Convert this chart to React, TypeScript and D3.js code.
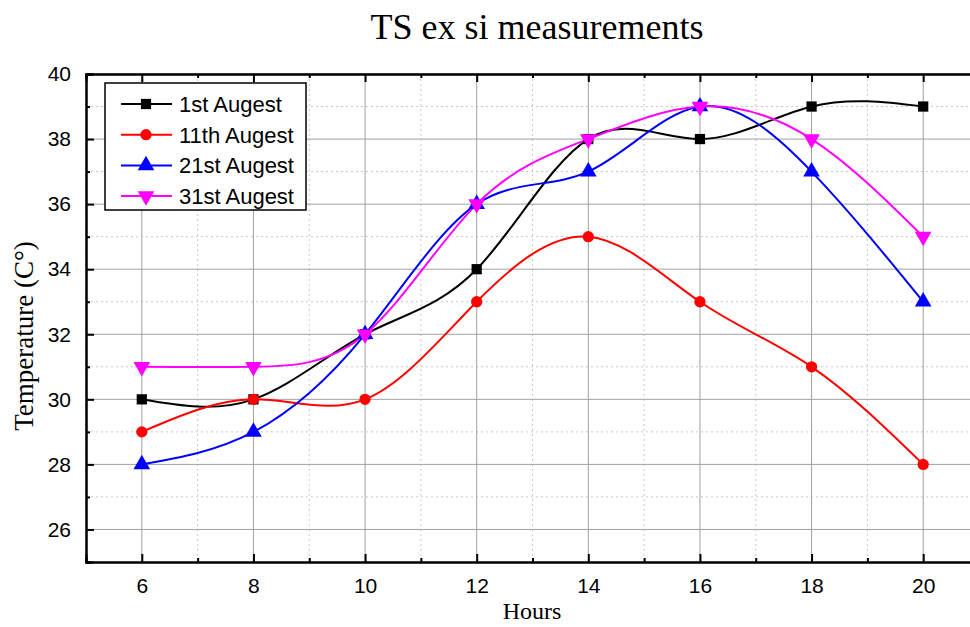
import React, { useEffect, useRef } from 'react'
import * as d3 from 'd3'

const hours = [6, 8, 10, 12, 14, 16, 18, 20]
const aug1 = [30, 30, 32, 34, 38, 38, 39, 39]
const aug11 = [29, 30, 30, 33, 35, 33, 31, 28]
const aug21 = [28, 29, 32, 36, 37, 39, 37, 33]
const aug31 = [31, 31, 32, 36, 38, 39, 38, 35]
const seriesNames = ['1st Augest', '11th Augest', '21st Augest', '31st Augest']
const yTicks = [26, 28, 30, 32, 34, 36, 38, 40]

const colors = ['#000000', '#ff0000', '#0000ff', '#ff00ff']
const symbols = [d3.symbolSquare, d3.symbolCircle, d3.symbolTriangle, d3.symbolTriangle]

const App = () => {
  const ref = useRef<SVGSVGElement>(null)

  useEffect(() => {
    draw()
  }, [])

  const draw = () => {
    const svg = d3.select(ref.current)
    svg.selectAll('*').remove()

    const left = 86
    const top = 74
    const bottom = 562
    const right = 979
    const x = d3.scaleLinear().domain([5, 21]).range([left, right])
    const y = d3.scaleLinear().domain([25, 40]).range([bottom, top])

    const g = svg.append('g')

    // grid
    const minorX = d3.range(5, 22, 2)
    const minorY = d3.range(25, 41, 2)
    g.selectAll('.mgx').data(minorX).enter().append('line')
      .attr('x1', (d) => x(d)).attr('x2', (d) => x(d))
      .attr('y1', top).attr('y2', bottom)
      .attr('stroke', '#c8c8c8').attr('stroke-dasharray', '2,3')
    g.selectAll('.mgy').data(minorY).enter().append('line')
      .attr('x1', left).attr('x2', right)
      .attr('y1', (d) => y(d)).attr('y2', (d) => y(d))
      .attr('stroke', '#c8c8c8').attr('stroke-dasharray', '2,3')
    g.selectAll('.gx').data(hours).enter().append('line')
      .attr('x1', (d) => x(d)).attr('x2', (d) => x(d))
      .attr('y1', top).attr('y2', bottom)
      .attr('stroke', '#a0a0a0').attr('stroke-width', 1)
    g.selectAll('.gy').data(yTicks).enter().append('line')
      .attr('x1', left).attr('x2', right)
      .attr('y1', (d) => y(d)).attr('y2', (d) => y(d))
      .attr('stroke', '#a0a0a0').attr('stroke-width', 1)

    // axes (ticks inward)
    const ax = g.append('g').attr('transform', `translate(0,${bottom})`)
      .call(d3.axisBottom(x).tickValues(hours).tickSize(-8).tickPadding(16).tickFormat(d3.format('d')))
    const axMinor = g.append('g').attr('transform', `translate(0,${bottom})`)
      .call(d3.axisBottom(x).tickValues(minorX).tickSize(-4).tickFormat(() => ''))
    const axTop = g.append('g').attr('transform', `translate(0,${top})`)
      .call(d3.axisTop(x).tickValues(hours).tickSize(-8).tickFormat(() => ''))
    const axTopMinor = g.append('g').attr('transform', `translate(0,${top})`)
      .call(d3.axisTop(x).tickValues(minorX).tickSize(-4).tickFormat(() => ''))
    const ay = g.append('g').attr('transform', `translate(${left},0)`)
      .call(d3.axisLeft(y).tickValues(yTicks).tickSize(-8).tickPadding(15))
    const ayMinor = g.append('g').attr('transform', `translate(${left},0)`)
      .call(d3.axisLeft(y).tickValues(minorY).tickSize(-4).tickFormat(() => ''))
    const ayRight = g.append('g').attr('transform', `translate(${right},0)`)
      .call(d3.axisRight(y).tickValues(yTicks).tickSize(-8).tickFormat(() => ''))
    ;[ax, axMinor, axTop, axTopMinor, ay, ayMinor, ayRight].forEach((a) => {
      a.attr('font-size', 21).attr('font-family', 'Liberation Sans, Arial, sans-serif')
      a.select('.domain').attr('stroke', '#000').attr('stroke-width', 2)
      a.selectAll('.tick line').attr('stroke', '#000').attr('stroke-width', 2)
      a.selectAll('.tick text').attr('fill', '#000')
    })

    // series
    const data = [aug1, aug11, aug21, aug31]
    const line = d3.line<number>()
      .x((d, i) => x(hours[i]))
      .y((d) => y(d))
      .curve(d3.curveNatural)

    data.forEach((vals, si) => {
      g.append('path').datum(vals)
        .attr('d', line)
        .attr('fill', 'none')
        .attr('stroke', colors[si])
        .attr('stroke-width', 2)
    })
    const sym = (si: number) => d3.symbol().type(symbols[si]).size(si === 1 ? 100 : si === 0 ? 105 : 120)
    data.forEach((vals, si) => {
      g.selectAll(`.m${si}`).data(vals).enter().append('path')
        .attr('d', sym(si)())
        .attr('transform', (d, i) => `translate(${x(hours[i])},${y(d)})${si === 3 ? ' rotate(180)' : ''}`)
        .attr('fill', colors[si])
    })

    // legend
    const lg = g.append('g')
    lg.append('rect').attr('x', 105).attr('y', 83).attr('width', 201).attr('height', 127)
      .attr('fill', '#fff').attr('stroke', '#000').attr('stroke-width', 1.5)
    seriesNames.forEach((name, si) => {
      const ly = 104 + si * 30.7
      lg.append('line').attr('x1', 121).attr('x2', 172).attr('y1', ly).attr('y2', ly)
        .attr('stroke', colors[si]).attr('stroke-width', 2)
      lg.append('path').attr('d', sym(si)())
        .attr('transform', `translate(146,${ly})${si === 3 ? ' rotate(180)' : ''}`)
        .attr('fill', colors[si])
      lg.append('text').attr('x', 179).attr('y', ly + 8)
        .attr('font-family', 'Liberation Sans, Arial, sans-serif')
        .attr('font-size', 22).attr('fill', '#000').text(name)
    })

    // titles
    svg.append('text').attr('x', 537).attr('y', 39).attr('text-anchor', 'middle')
      .attr('font-family', 'Liberation Serif, Times New Roman, serif')
      .attr('font-size', 36).text('TS ex si measurements')
    svg.append('text').attr('transform', `translate(33,336) rotate(-90)`).attr('text-anchor', 'middle')
      .attr('font-family', 'Liberation Serif, Times New Roman, serif')
      .attr('font-size', 27).text('Temperature (C°)')
    svg.append('text').attr('x', 532).attr('y', 619).attr('text-anchor', 'middle')
      .attr('font-family', 'Liberation Serif, Times New Roman, serif')
      .attr('font-size', 24).text('Hours')
  }

  return (
    <svg ref={ref} width={970} height={627}
      style={{ position: 'absolute', left: 0, top: 0, background: '#fff' }} />
  )
}

export default App
